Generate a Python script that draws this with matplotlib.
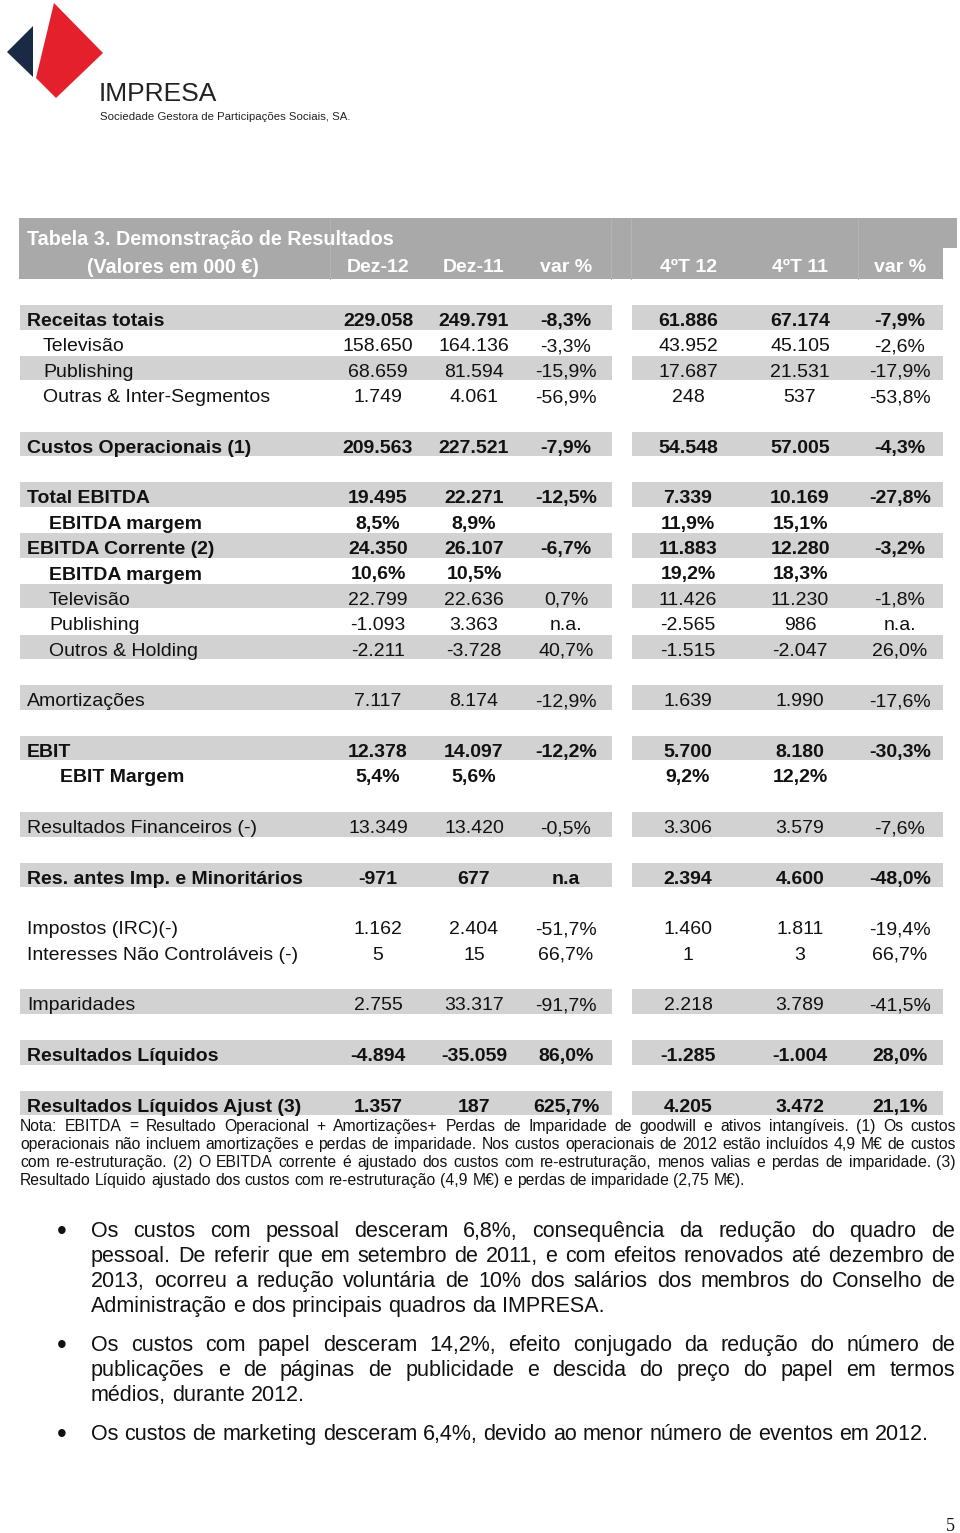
import numpy as np
import matplotlib.pyplot as plt
from matplotlib.patches import Polygon, Rectangle

plt.rcParams['font.family'] = ['Liberation Sans', 'DejaVu Sans']

# table data (values in 000 EUR)
col_heads = ["Dez-12", "Dez-11", "var %", "4ºT 12", "4ºT 11", "var %"]
row_labels = ["Receitas totais", "Televisão", "Publishing", "Outras & Inter-Segmentos",
              "Custos Operacionais (1)",
              "Total EBITDA", "EBITDA margem", "EBITDA Corrente (2)", "EBITDA margem",
              "Televisão", "Publishing", "Outros & Holding",
              "Amortizações",
              "EBIT", "EBIT Margem",
              "Resultados Financeiros (-)",
              "Res. antes Imp. e Minoritários",
              "Impostos (IRC)(-)", "Interesses Não Controláveis (-)",
              "Imparidades",
              "Resultados Líquidos",
              "Resultados Líquidos Ajust (3)"]
dez12 = ["229.058", "158.650", "68.659", "1.749", "209.563", "19.495", "8,5%", "24.350", "10,6%",
         "22.799", "-1.093", "-2.211", "7.117", "12.378", "5,4%", "13.349", "-971", "1.162", "5",
         "2.755", "-4.894", "1.357"]
dez11 = ["249.791", "164.136", "81.594", "4.061", "227.521", "22.271", "8,9%", "26.107", "10,5%",
         "22.636", "3.363", "-3.728", "8.174", "14.097", "5,6%", "13.420", "677", "2.404", "15",
         "33.317", "-35.059", "187"]
var_year = ["-8,3%", "-3,3%", "-15,9%", "-56,9%", "-7,9%", "-12,5%", "", "-6,7%", "",
            "0,7%", "n.a.", "40,7%", "-12,9%", "-12,2%", "", "-0,5%", "n.a", "-51,7%", "66,7%",
            "-91,7%", "86,0%", "625,7%"]
q4_12 = ["61.886", "43.952", "17.687", "248", "54.548", "7.339", "11,9%", "11.883", "19,2%",
         "11.426", "-2.565", "-1.515", "1.639", "5.700", "9,2%", "3.306", "2.394", "1.460", "1",
         "2.218", "-1.285", "4.205"]
q4_11 = ["67.174", "45.105", "21.531", "537", "57.005", "10.169", "15,1%", "12.280", "18,3%",
         "11.230", "986", "-2.047", "1.990", "8.180", "12,2%", "3.579", "4.600", "1.811", "3",
         "3.789", "-1.004", "3.472"]
var_q4 = ["-7,9%", "-2,6%", "-17,9%", "-53,8%", "-4,3%", "-27,8%", "", "-3,2%", "",
          "-1,8%", "n.a.", "26,0%", "-17,6%", "-30,3%", "", "-7,6%", "-48,0%", "-19,4%", "66,7%",
          "-41,5%", "28,0%", "21,1%"]
bold = [1, 0, 0, 0, 1, 1, 1, 1, 1, 0, 0, 0, 0, 1, 1, 0, 1, 0, 0, 0, 1, 1]
level = [0, 1, 1, 1, 0, 0, 2, 0, 2, 2, 2, 2, 0, 0, 3, 0, 0, 0, 0, 0, 0, 0]
shaded = [1, 0, 1, 0, 1, 1, 0, 1, 0, 1, 0, 1, 1, 1, 0, 1, 1, 0, 0, 1, 1, 1]
group_sizes = [4, 1, 7, 1, 2, 1, 1, 2, 1, 1, 1]

note_lines = [
    "Nota: EBITDA = Resultado Operacional + Amortizações+ Perdas de Imparidade de goodwill e ativos intangíveis. (1) Os custos",
    "operacionais não incluem amortizações e perdas de imparidade. Nos custos operacionais de 2012 estão incluídos 4,9 M€ de custos",
    "com re-estruturação. (2) O EBITDA corrente é ajustado dos custos com re-estruturação, menos valias e perdas de imparidade. (3)",
    "Resultado Líquido ajustado dos custos com re-estruturação (4,9 M€) e perdas de imparidade (2,75 M€).",
]
bullets = [
    ["Os custos com pessoal desceram 6,8%, consequência da redução do quadro de",
     "pessoal. De referir que em setembro de 2011, e com efeitos renovados até dezembro de",
     "2013, ocorreu a redução voluntária de 10% dos salários dos membros do Conselho de",
     "Administração e dos principais quadros da IMPRESA."],
    ["Os custos com papel desceram 14,2%, efeito conjugado da redução do número de",
     "publicações e de páginas de publicidade e descida do preço do papel em termos",
     "médios, durante 2012."],
    ["Os custos de marketing desceram 6,4%, devido ao menor número de eventos em 2012."],
]

fig = plt.figure(figsize=(9.6, 15.33), dpi=100)
ax = fig.add_axes([0, 0, 1, 1])
ax.set_xlim(0, 960)
ax.set_ylim(1533, 0)
ax.axis('off')
renderer = fig.canvas.get_renderer()


def text_w(s, size):
    t = ax.text(0, 0, s, fontsize=size)
    w = t.get_window_extent(renderer).width
    t.remove()
    return w


def fit_size(lines, last_target, avail, base=10):
    # size so that the (unjustified) last line has the target width,
    # but no justified line is longer than the available width
    size = base * last_target / text_w(lines[-1], base)
    longest = max([text_w(l, base) for l in lines[:-1]] or [0])
    if longest:
        size = min(size, base * (avail - 15) / longest)
    return size


def justified(line, x0, x1, y, size, last=False):
    words = line.split(' ')
    ts = [ax.text(0, y, wd, fontsize=size, color='#111111', va='baseline') for wd in words]
    widths = [t.get_window_extent(renderer).width for t in ts]
    if last or len(words) == 1:
        sp = text_w('a a', size) - text_w('aa', size)
    else:
        sp = (x1 - x0 - sum(widths)) / (len(words) - 1)
    x = x0
    for t, wd in zip(ts, widths):
        t.set_x(x)
        x += wd + sp


# logo
ax.add_patch(Polygon([(7, 52), (33, 26), (33, 77)], closed=True, color='#1b2a44', lw=0))
ax.add_patch(Polygon([(54, 3), (103, 53), (56, 98), (36, 78)], closed=True, color='#e3202c', lw=0))
ax.text(99, 101, "IMPRESA", fontsize=19, color='#222222', va='baseline', ha='left')
ax.text(100, 120, "Sociedade Gestora de Participações Sociais, SA.", fontsize=8.2,
        color='#222222', va='baseline', ha='left')

# header
hdr_col = '#a9a9a9'
ax.add_patch(Rectangle((19, 218), 938, 30, color=hdr_col, lw=0))
ax.add_patch(Rectangle((19, 248), 924, 31, color=hdr_col, lw=0))
for xs in [330, 611, 631, 858]:
    ax.plot([xs, xs], [218, 279], color='#b4b4b4', lw=0.8)
ax.text(27, 245, "Tabela 3. Demonstração de Resultados", fontsize=14.2, fontweight='bold',
        color='white', va='baseline')
ax.text(87, 273, "(Valores em 000 €)", fontsize=14.2, fontweight='bold', color='white', va='baseline')
col_x = [378, 474, 566, 688, 800, 900]
for cx, h in zip(col_x, col_heads):
    ax.text(cx, 272, h, fontsize=14, fontweight='bold', color='white', va='baseline', ha='center')

# body rows
top0, pitch, band_h = 305, 25.35, 24.5
slots = []
s = 0
for g in group_sizes:
    for k in range(g):
        slots.append(s)
        s += 1
    s += 1
indent_x = {0: 27, 1: 43, 2: 49, 3: 60}
row_col = '#d2d2d2'
columns = [dez12, dez11, var_year, q4_12, q4_11, var_q4]
for i, lab in enumerate(row_labels):
    top = top0 + slots[i] * pitch
    if shaded[i]:
        ax.add_patch(Rectangle((20, top), 592, band_h, color=row_col, lw=0))
        ax.add_patch(Rectangle((632, top), 311, band_h, color=row_col, lw=0))
    w = 'bold' if bold[i] else 'normal'
    ax.text(indent_x[level[i]], top + 21, lab, fontsize=14, fontweight=w, color='#111111', va='baseline')
    for cx, col in zip(col_x, columns):
        ax.text(cx, top + 21, col[i], fontsize=14, fontweight=w, color='#111111',
                va='baseline', ha='center')

# note
note_size = fit_size(note_lines, 732, 936)
for j, line in enumerate(note_lines):
    justified(line, 20, 956, 1131 + j * 18, note_size, last=(j == len(note_lines) - 1))

# bullet paragraphs
all_lines = [l for p in bullets for l in p]
just_lines = [l for p in bullets for l in p[:-1]] + [bullets[-1][-1]]
bullet_size = fit_size(just_lines, 852, 864)
para_y = [1237, 1351, 1440]
for p, lines in enumerate(bullets):
    ax.text(62, para_y[p] - 5, "•", fontsize=20, ha='center', va='center', color='#111111')
    for j, line in enumerate(lines):
        justified(line, 91, 955, para_y[p] + j * 25, bullet_size, last=(j == len(lines) - 1))

ax.text(955, 1531, "5", fontsize=13, family='Liberation Serif', ha='right', va='baseline', color='#111111')

fig.savefig("out.png", dpi=100)
